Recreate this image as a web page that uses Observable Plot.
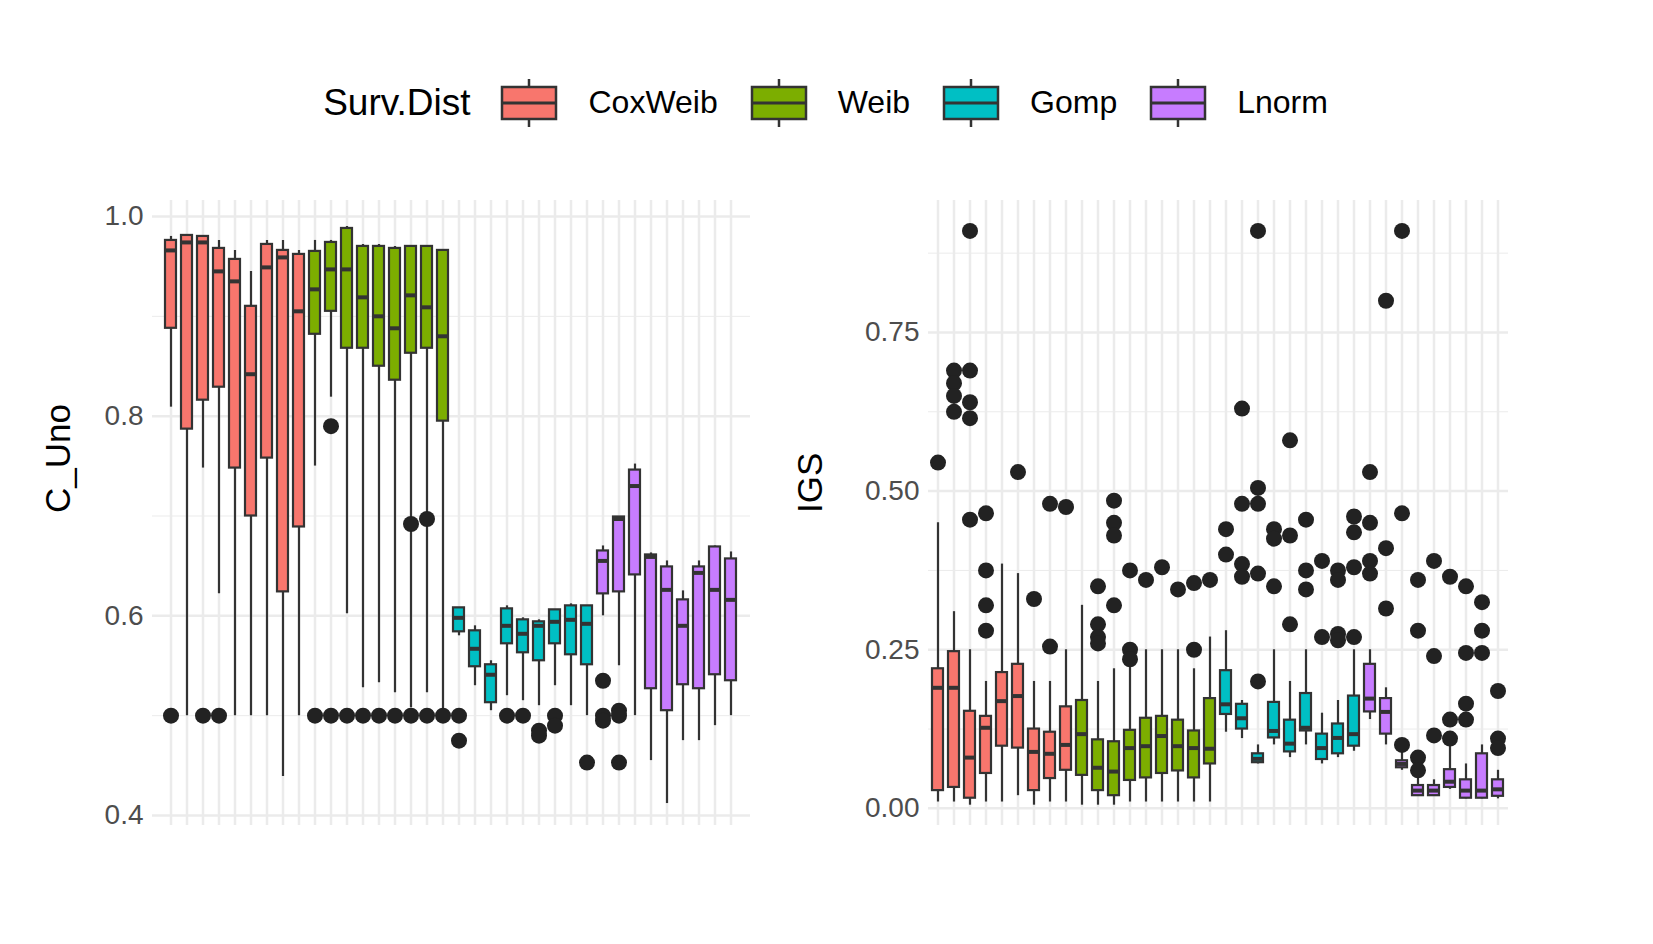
<!DOCTYPE html>
<html><head><meta charset="utf-8">
<script src="https://cdn.jsdelivr.net/npm/d3@7"></script>
<script src="https://cdn.jsdelivr.net/npm/@observablehq/plot@0.6"></script>
<style>
body{margin:0;background:#fff;font-family:"Liberation Sans",Arial,sans-serif;width:1653px;height:944px;overflow:hidden}
#legend{height:195px;display:flex;align-items:center;justify-content:center;gap:0;box-sizing:border-box;padding-top:10px;padding-left:30px}
#legend .t{font-size:37px;margin-right:30px}
#legend .k{display:flex;align-items:center;margin-right:32px;font-size:32px}
#row{display:flex}
</style></head><body>
<div id="legend"></div>
<div id="row"><div id="c1"></div><div id="c2"></div></div>
<script>
const dists = ["CoxWeib","Weib","Gomp","Lnorm"];
const colors = ["#F8766D","#7CAE00","#00BFC4","#C77CFF"];

// C_Uno panel
const cuQ1  = [0.888,0.787,0.816,0.829,0.748,0.700,0.758,0.624,0.689, 0.882,0.905,0.868,0.868,0.850,0.836,0.863,0.868,0.795, 0.584,0.549,0.513,0.572,0.563,0.555,0.572,0.561,0.551, 0.622,0.624,0.641,0.527,0.505,0.531,0.527,0.541,0.535];
const cuMed = [0.966,0.974,0.974,0.945,0.935,0.842,0.949,0.959,0.905, 0.927,0.947,0.947,0.919,0.900,0.888,0.921,0.909,0.880, 0.598,0.567,0.541,0.590,0.582,0.590,0.594,0.596,0.592, 0.655,0.697,0.730,0.659,0.626,0.590,0.643,0.626,0.616];
const cuQ3  = [0.976,0.981,0.980,0.968,0.957,0.910,0.972,0.966,0.962, 0.965,0.974,0.988,0.970,0.970,0.968,0.970,0.970,0.966, 0.608,0.585,0.551,0.607,0.596,0.594,0.606,0.610,0.610, 0.665,0.699,0.746,0.661,0.649,0.616,0.649,0.669,0.657];
const cuLo  = [0.809,0.500,0.748,0.622,0.500,0.500,0.500,0.439,0.500, 0.750,0.819,0.602,0.528,0.533,0.523,0.508,0.523,0.500, 0.580,0.530,0.505,0.520,0.515,0.510,0.530,0.510,0.500, 0.600,0.550,0.500,0.455,0.412,0.475,0.475,0.490,0.500];
const cuHi  = [0.980,0.981,0.980,0.976,0.966,0.945,0.976,0.976,0.966, 0.976,0.976,0.990,0.972,0.972,0.970,0.970,0.970,0.966, 0.608,0.590,0.555,0.610,0.598,0.596,0.606,0.612,0.610, 0.670,0.699,0.752,0.663,0.655,0.625,0.655,0.670,0.664];
const cuOut = [[0.5],[],[0.5],[0.5],[],[],[],[],[], [0.5],[0.79,0.5],[0.5],[0.5],[0.5],[0.5],[0.692,0.5],[0.697,0.5],[0.5], [0.5,0.475],[],[],[0.5],[0.5],[0.485,0.48],[0.5,0.49],[],[0.453], [0.535,0.5,0.495],[0.505,0.5,0.453],[],[],[],[],[],[],[]];

// IGS panel
const igQ1  = [0.028,0.033,0.016,0.055,0.098,0.095,0.028,0.047,0.060, 0.052,0.028,0.020,0.044,0.048,0.055,0.059,0.048,0.070, 0.148,0.125,0.072,0.111,0.089,0.122,0.077,0.086,0.098, 0.152,0.117,0.064,0.020,0.020,0.033,0.016,0.016,0.019];
const igMed = [0.190,0.190,0.080,0.127,0.169,0.177,0.089,0.086,0.100, 0.117,0.064,0.058,0.095,0.098,0.114,0.098,0.095,0.094, 0.164,0.142,0.078,0.122,0.102,0.127,0.095,0.111,0.117, 0.173,0.152,0.070,0.028,0.028,0.042,0.028,0.028,0.030];
const igQ3  = [0.220,0.247,0.153,0.145,0.214,0.227,0.125,0.120,0.160, 0.170,0.108,0.105,0.123,0.142,0.145,0.139,0.122,0.173, 0.217,0.164,0.086,0.167,0.139,0.181,0.117,0.133,0.177, 0.227,0.173,0.075,0.036,0.036,0.061,0.045,0.086,0.045];
const igLo  = [0.010,0.010,0.005,0.010,0.010,0.020,0.005,0.010,0.010, 0.005,0.005,0.005,0.010,0.010,0.010,0.010,0.010,0.010, 0.120,0.110,0.070,0.100,0.080,0.100,0.070,0.080,0.090, 0.140,0.100,0.060,0.020,0.020,0.030,0.015,0.015,0.015];
const igHi  = [0.450,0.310,0.250,0.200,0.385,0.370,0.200,0.200,0.250, 0.320,0.200,0.220,0.230,0.250,0.250,0.250,0.220,0.270, 0.280,0.170,0.100,0.250,0.200,0.250,0.150,0.170,0.250, 0.250,0.190,0.100,0.060,0.045,0.100,0.070,0.100,0.060];
const igOut = [[0.545],[0.69,0.67,0.65,0.625],[0.91,0.69,0.64,0.615,0.455],[0.465,0.375,0.32,0.28],[],[0.53],[0.33],[0.48,0.255],[0.475],
  [],[0.35,0.29,0.27,0.26],[0.485,0.45,0.43,0.32],[0.375,0.25,0.235],[0.36],[0.38],[0.345],[0.355,0.25],[0.36],
  [0.44,0.4],[0.63,0.48,0.385,0.365],[0.91,0.505,0.48,0.37,0.2],[0.44,0.425,0.35],[0.58,0.43,0.29],[0.455,0.375,0.345],[0.39,0.27],[0.375,0.36,0.275,0.265],[0.46,0.435,0.38,0.27],
  [0.53,0.45,0.39,0.37],[0.8,0.41,0.315],[0.91,0.465,0.1],[0.36,0.28,0.08,0.06],[0.39,0.24,0.115],[0.365,0.14,0.11],[0.35,0.245,0.165,0.14],[0.325,0.28,0.245],[0.185,0.11,0.095]];

function boxes(q1,med,q3,lo,hi,out){
  const rows = q1.map((d,i)=>({k:i,dist:dists[Math.floor(i/9)],q1:d,med:med[i],q3:q3[i],lo:lo[i],hi:hi[i]}));
  const pts = out.flatMap((a,i)=>a.map(v=>({k:i,v})));
  return {rows,pts};
}

function panel(b, opts){
  const cats = d3.range(36);
  return Plot.plot({
    width: opts.width, height: 650,
    marginLeft: opts.ml, marginRight: opts.mr, marginTop: 5, marginBottom: 20,
    style:{fontFamily:"Liberation Sans, Arial, sans-serif", fontSize:"28px", color:"#4d4d4d"},
    x:{type:"band", domain:cats, paddingInner:0.3, paddingOuter:0.15, axis:null},
    y:{domain:opts.domain, ticks:opts.ticks, tickFormat:opts.fmt, label:null, tickSize:0, tickPadding:8},
    color:{domain:dists, range:colors},
    marks:[
      Plot.ruleY(opts.minor,{stroke:"#ebebeb",strokeWidth:1}),
      Plot.ruleY(opts.ticks,{stroke:"#ebebeb",strokeWidth:2.5}),
      Plot.ruleX(cats,{x:d=>d,stroke:"#ebebeb",strokeWidth:2.5}),
      Plot.ruleX(b.rows,{x:"k",y1:"lo",y2:"hi",stroke:"#333",strokeWidth:2.2}),
      Plot.barY(b.rows,{x:"k",y1:"q1",y2:"q3",fill:"dist",stroke:"#333",strokeWidth:2.2}),
      Plot.tickY(b.rows,{x:"k",y:"med",stroke:"#333",strokeWidth:4}),
      Plot.dot(b.pts,{x:"k",y:"v",r:8,fill:"#222",stroke:"none"}),
      Plot.axisY({ticks:opts.ticks,tickFormat:opts.fmt,tickSize:0,fontSize:28,label:null}),
      Plot.text([opts.title],{frameAnchor:"left",dx:-opts.ml+opts.tx,rotate:-90,fontSize:35,fill:"#000"})
    ]
  });
}

const b1 = boxes(cuQ1,cuMed,cuQ3,cuLo,cuHi,cuOut);
const b2 = boxes(igQ1,igMed,igQ3,igLo,igHi,igOut);
d3.select("#c1").append(()=>panel(b1,{width:772,ml:152,mr:22,domain:[0.39,1.016],ticks:[0.4,0.6,0.8,1.0],minor:[0.5,0.7,0.9],fmt:d3.format(".1f"),title:"C_Uno",tx:58}));
d3.select("#c2").append(()=>panel(b2,{width:881,ml:156,mr:145,domain:[-0.027,0.958],ticks:[0,0.25,0.5,0.75],minor:[0.125,0.375,0.625,0.875],fmt:d3.format(".2f"),title:"IGS",tx:38}));

// legend
const lg = d3.select("#legend");
lg.append("span").attr("class","t").text("Surv.Dist");
dists.forEach((d,i)=>{
  const k = lg.append("span").attr("class","k");
  const s = k.append("svg").attr("width",58).attr("height",52).style("margin-right","30px");
  s.append("line").attr("x1",29).attr("x2",29).attr("y1",2).attr("y2",50).attr("stroke","#333").attr("stroke-width",2.5);
  s.append("rect").attr("x",2).attr("y",10).attr("width",54).attr("height",32).attr("fill",colors[i]).attr("stroke","#333").attr("stroke-width",2.5);
  s.append("line").attr("x1",2).attr("x2",56).attr("y1",26).attr("y2",26).attr("stroke","#333").attr("stroke-width",3);
  k.append("span").text(d);
});
</script>
</body></html>
